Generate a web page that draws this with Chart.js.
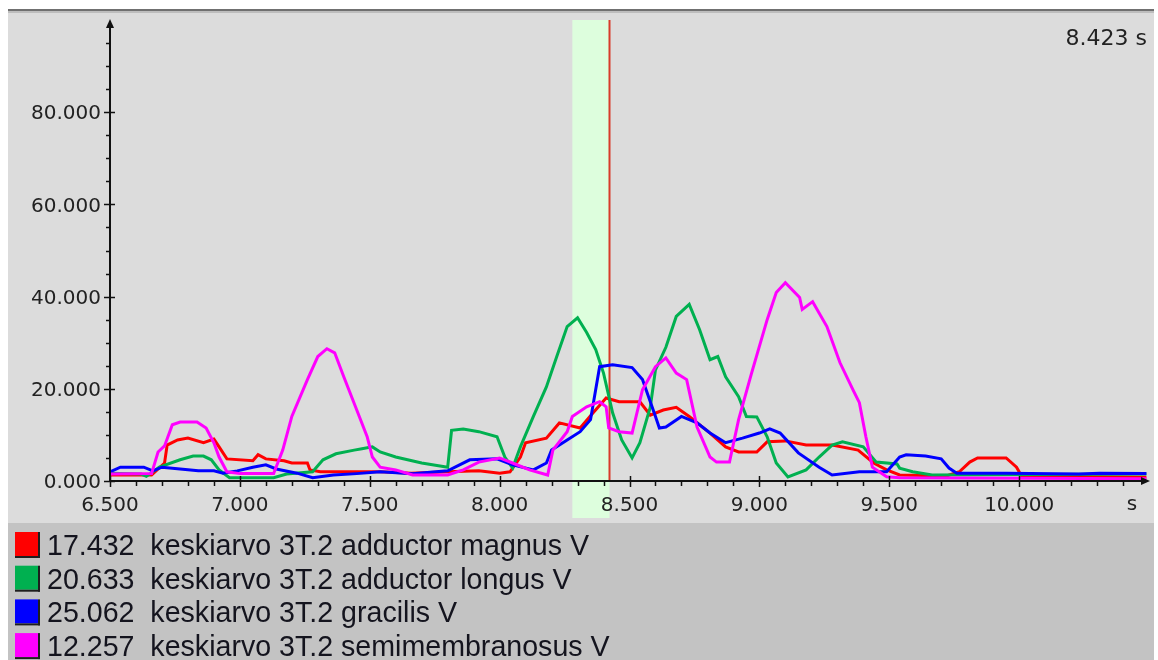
<!DOCTYPE html>
<html>
<head>
<meta charset="utf-8">
<script src="https://cdn.jsdelivr.net/npm/chart.js@4.4.1/dist/chart.umd.min.js"></script>
<style>
  html, body { margin: 0; padding: 0; background: #fff; }
  #wrap { width: 1158px; height: 660px; }
</style>
</head>
<body>
<div id="wrap"><canvas id="emg" width="1158" height="660"></canvas></div>
<script>
// time (s) and value arrays per channel
const magnusT = [6.50, 6.66, 6.71, 6.72, 6.76, 6.80, 6.86, 6.90, 6.92, 6.95, 7.05, 7.07, 7.10, 7.17, 7.20, 7.26, 7.27, 7.31, 7.54, 7.66, 7.80, 7.92, 8.00, 8.04, 8.08, 8.10, 8.18, 8.23, 8.31, 8.36, 8.41, 8.46, 8.54, 8.58, 8.63, 8.68, 8.73, 8.81, 8.87, 8.92, 8.99, 9.03, 9.10, 9.18, 9.28, 9.38, 9.44, 9.49, 9.54, 9.72, 9.77, 9.81, 9.84, 9.95, 9.99, 10.00, 10.01, 10.49];
const magnusV = [1.3, 1.3, 3.9, 7.8, 8.9, 9.3, 8.3, 9.1, 7.4, 4.8, 4.4, 5.7, 4.8, 4.4, 3.9, 3.9, 2.4, 2.0, 2.0, 1.7, 2.0, 2.2, 1.7, 2.0, 5.2, 8.3, 9.3, 12.6, 11.5, 14.8, 18.0, 17.2, 17.2, 14.3, 15.4, 16.0, 14.0, 10.4, 7.4, 6.3, 6.3, 8.5, 8.7, 7.8, 7.8, 6.7, 3.9, 2.4, 1.3, 1.1, 2.0, 4.1, 5.0, 5.0, 3.0, 2.0, 1.1, 0.8];

const longusT = [6.50, 6.62, 6.64, 6.69, 6.77, 6.82, 6.86, 6.89, 6.92, 6.96, 7.13, 7.18, 7.28, 7.32, 7.37, 7.44, 7.47, 7.51, 7.54, 7.60, 7.70, 7.80, 7.815, 7.86, 7.92, 7.99, 8.02, 8.05, 8.08, 8.13, 8.18, 8.22, 8.26, 8.30, 8.335, 8.37, 8.40, 8.435, 8.47, 8.51, 8.54, 8.58, 8.60, 8.64, 8.68, 8.73, 8.77, 8.81, 8.84, 8.87, 8.92, 8.95, 8.99, 9.03, 9.065, 9.11, 9.18, 9.23, 9.28, 9.32, 9.40, 9.45, 9.53, 9.54, 9.59, 9.665, 10.49];
const longusV = [1.7, 1.5, 1.0, 3.0, 4.6, 5.4, 5.4, 4.6, 2.4, 0.7, 0.7, 1.5, 2.0, 4.6, 5.9, 6.7, 7.0, 7.4, 6.3, 5.2, 3.9, 3.0, 11.0, 11.3, 10.7, 9.6, 5.2, 2.8, 7.4, 14.0, 20.4, 27.0, 33.5, 35.4, 32.2, 28.5, 23.4, 14.8, 8.9, 5.0, 8.3, 16.0, 24.1, 29.0, 35.7, 38.3, 32.8, 26.3, 27.0, 22.6, 18.3, 14.0, 13.9, 9.6, 3.9, 0.9, 2.4, 5.2, 7.8, 8.5, 7.4, 4.1, 3.7, 2.8, 2.0, 1.3, 1.5];

const gracilisT = [6.50, 6.54, 6.63, 6.665, 6.70, 6.77, 6.84, 6.90, 6.935, 6.99, 7.05, 7.10, 7.14, 7.22, 7.28, 7.36, 7.45, 7.54, 7.665, 7.80, 7.885, 7.99, 8.05, 8.13, 8.18, 8.20, 8.26, 8.31, 8.35, 8.385, 8.435, 8.51, 8.55, 8.60, 8.615, 8.64, 8.70, 8.76, 8.81, 8.87, 8.935, 9.00, 9.04, 9.08, 9.15, 9.23, 9.28, 9.385, 9.49, 9.54, 9.565, 9.64, 9.70, 9.73, 9.76, 9.95, 10.23, 10.31, 10.49];
const gracilisV = [2.0, 3.0, 3.0, 2.2, 3.0, 2.6, 2.2, 2.2, 1.7, 2.2, 3.0, 3.5, 2.6, 1.7, 0.7, 1.3, 1.6, 2.0, 1.6, 2.2, 4.6, 4.8, 3.5, 2.4, 3.9, 6.7, 8.9, 10.7, 13.3, 24.8, 25.2, 24.6, 22.0, 14.0, 11.5, 11.7, 14.0, 12.6, 10.4, 8.3, 9.3, 10.4, 11.3, 10.4, 6.1, 3.0, 1.3, 2.0, 2.0, 5.2, 5.7, 5.4, 4.8, 2.8, 1.7, 1.7, 1.5, 1.7, 1.6];

const semimT = [6.50, 6.66, 6.685, 6.71, 6.74, 6.77, 6.835, 6.87, 6.90, 6.92, 6.95, 7.00, 7.13, 7.165, 7.20, 7.26, 7.30, 7.335, 7.365, 7.40, 7.45, 7.49, 7.51, 7.54, 7.60, 7.665, 7.80, 7.86, 7.92, 8.00, 8.05, 8.115, 8.185, 8.205, 8.26, 8.28, 8.335, 8.385, 8.41, 8.42, 8.46, 8.51, 8.55, 8.60, 8.64, 8.68, 8.72, 8.76, 8.81, 8.835, 8.885, 8.92, 8.97, 9.03, 9.065, 9.10, 9.155, 9.165, 9.205, 9.26, 9.31, 9.36, 9.385, 9.41, 9.435, 9.49, 9.54, 10.49];
const semimV = [1.5, 1.6, 6.3, 7.6, 12.2, 12.8, 12.8, 11.5, 8.3, 5.2, 2.0, 1.6, 1.6, 6.7, 14.0, 22.0, 27.0, 28.7, 27.8, 22.6, 15.4, 9.6, 5.2, 3.0, 2.4, 1.3, 1.3, 2.4, 4.1, 5.0, 3.9, 2.4, 1.3, 6.7, 10.7, 14.0, 16.1, 17.2, 16.1, 11.5, 10.7, 10.4, 19.8, 24.8, 26.7, 23.4, 22.0, 11.7, 5.2, 4.1, 4.1, 13.3, 23.4, 35.0, 40.9, 43.0, 39.8, 37.2, 38.9, 33.5, 25.7, 19.8, 17.0, 9.6, 3.0, 0.9, 0.7, 0.5];

const channelNames = ["keskiarvo 3T.2 adductor magnus V", "keskiarvo 3T.2 adductor longus V", "keskiarvo 3T.2 gracilis V", "keskiarvo 3T.2 semimembranosus V"];
const cursorValues = [17.432, 20.633, 25.062, 12.257];
const channelColors = ["#ff0000", "#00b050", "#0000ff", "#ff00ff"];

const cursorTime = 8.423;
const bandStart = 8.28;
const xMin = 6.5, xMax = 10.5;
const yMin = 0, yMax = 100;

function pairs(ts, vs) {
    return ts.map((t, i) => ({ x: t, y: vs[i] }));
}

const series = [pairs(magnusT, magnusV), pairs(longusT, longusV), pairs(gracilisT, gracilisV), pairs(semimT, semimV)];

const isMult = (v, step) => Math.abs(v / step - Math.round(v / step)) < 1e-6;

const decor = {
    id: "decor",
    beforeDraw(chart) {
        const ctx = chart.ctx;
        const xs = chart.scales.x, ys = chart.scales.y;
        ctx.save();
        ctx.fillStyle = "#ffffff";
        ctx.fillRect(0, 0, chart.width, chart.height);
        // plot panel
        ctx.fillStyle = "#dcdcdc";
        ctx.fillRect(8, 11, 1146, 512);
        ctx.fillStyle = "#707070";
        ctx.fillRect(8, 9, 1146, 2);
        ctx.fillStyle = "#bdbdbd";
        ctx.fillRect(8, 11, 1146, 2);
        // legend panel
        ctx.fillStyle = "#c3c3c3";
        ctx.fillRect(8, 523, 1146, 137);
        // selection band and cursor
        const b0 = xs.getPixelForValue(bandStart), b1 = xs.getPixelForValue(cursorTime);
        ctx.fillStyle = "#ddfedd";
        ctx.fillRect(b0, ys.getPixelForValue(yMax), b1 - b0, 518 - ys.getPixelForValue(yMax));
        ctx.strokeStyle = "#d83a2a";
        ctx.lineWidth = 2;
        ctx.beginPath();
        ctx.moveTo(b1, ys.getPixelForValue(yMax));
        ctx.lineTo(b1, ys.getPixelForValue(0));
        ctx.stroke();
        ctx.restore();
    },
    afterDatasetsDraw(chart) {
        const ctx = chart.ctx;
        const xs = chart.scales.x, ys = chart.scales.y;
        const x0 = xs.left, y0 = ys.getPixelForValue(0);
        ctx.save();
        ctx.strokeStyle = "#111";
        ctx.fillStyle = "#111";
        ctx.lineWidth = 2;
        ctx.beginPath();
        ctx.moveTo(x0, y0 + 1);
        ctx.lineTo(x0, ys.top + 4);
        ctx.moveTo(x0 - 1, y0);
        ctx.lineTo(xs.right - 4, y0);
        ctx.stroke();
        // arrow heads
        ctx.beginPath();
        ctx.moveTo(x0, ys.top - 1);
        ctx.lineTo(x0 - 4, ys.top + 8);
        ctx.lineTo(x0 + 4, ys.top + 8);
        ctx.closePath();
        ctx.fill();
        ctx.beginPath();
        ctx.moveTo(xs.right + 1, y0);
        ctx.lineTo(xs.right - 8, y0 - 4);
        ctx.lineTo(xs.right - 8, y0 + 4);
        ctx.closePath();
        ctx.fill();
        // tick marks
        ctx.lineWidth = 1.5;
        ctx.beginPath();
        ys.ticks.forEach(t => {
            if (t.value >= yMax) return;
            const py = Math.round(ys.getPixelForValue(t.value)) + 0.5;
            if (isMult(t.value, 20)) { ctx.moveTo(x0 - 6, py); ctx.lineTo(x0 + 5, py); }
            else { ctx.moveTo(x0 - 4, py); ctx.lineTo(x0, py); }
        });
        xs.ticks.forEach(t => {
            if (t.value >= xMax - 1e-6) return;
            const px = Math.round(xs.getPixelForValue(t.value)) + 0.5;
            if (isMult(t.value, 0.5)) { ctx.moveTo(px, y0 - 5); ctx.lineTo(px, y0 + 6); }
            else { ctx.moveTo(px, y0); ctx.lineTo(px, y0 + 5); }
        });
        ctx.stroke();
        // unit and cursor readout
        ctx.fillStyle = "#222";
        ctx.font = "20px 'DejaVu Sans'";
        ctx.textAlign = "center";
        ctx.textBaseline = "alphabetic";
        ctx.fillText("s", 1132, 510);
        ctx.font = "22px 'DejaVu Sans'";
        ctx.textAlign = "right";
        ctx.fillText(cursorTime.toFixed(3) + " s", 1147, 45);
        ctx.restore();
    },
    afterDraw(chart) {
        const ctx = chart.ctx;
        ctx.save();
        ctx.font = "28.6px 'Liberation Sans'";
        ctx.textAlign = "left";
        ctx.textBaseline = "alphabetic";
        channelNames.forEach((name, i) => {
            const top = 532 + i * 33.7;
            ctx.fillStyle = channelColors[i];
            ctx.fillRect(15, top, 23, 24);
            ctx.fillStyle = "#1e1e1e";
            ctx.fillRect(38, top, 2, 26);
            ctx.fillRect(15, top + 24, 25, 2);
            ctx.fillStyle = "#14141e";
            ctx.fillText(cursorValues[i].toFixed(3) + "  " + name, 47, top + 23);
        });
        ctx.restore();
    }
};

const tickFont = { family: "'DejaVu Sans'", size: 20 };

new Chart(document.getElementById("emg").getContext("2d"), {
    type: "line",
    data: {
        datasets: series.map((pts, i) => ({
            label: channelNames[i],
            data: pts,
            borderColor: channelColors[i],
            borderWidth: 3,
            pointRadius: 0,
            tension: 0,
            fill: false,
            order: 3 - i,
        })),
    },
    options: {
        responsive: false,
        animation: false,
        devicePixelRatio: 1,
        layout: { padding: { top: 20, right: 8, bottom: 0, left: 0 } },
        plugins: { legend: { display: false }, tooltip: { enabled: false } },
        scales: {
            x: {
                type: "linear",
                min: xMin,
                max: xMax,
                afterFit: (s) => { s.height = 179; },
                grid: { display: true, drawOnChartArea: false, tickColor: "transparent", tickLength: 4 },
                border: { display: false },
                ticks: {
                    stepSize: 0.1,
                    autoSkip: false,
                    maxRotation: 0,
                    padding: 9,
                    color: "#222",
                    font: tickFont,
                    callback: (v) => (isMult(v, 0.5) && v < xMax - 0.25 ? Number(v).toFixed(3) : ""),
                },
            },
            y: {
                min: yMin,
                max: yMax,
                afterFit: (s) => { s.width = 110; },
                grid: { display: true, drawOnChartArea: false, tickColor: "transparent", tickLength: 4 },
                border: { display: false },
                ticks: {
                    stepSize: 5,
                    autoSkip: false,
                    padding: 5,
                    labelOffset: 2,
                    color: "#222",
                    font: tickFont,
                    callback: (v) => (isMult(v, 20) && v < yMax ? Number(v).toFixed(3) : ""),
                },
            },
        },
    },
    plugins: [decor],
});
</script>
</body>
</html>
